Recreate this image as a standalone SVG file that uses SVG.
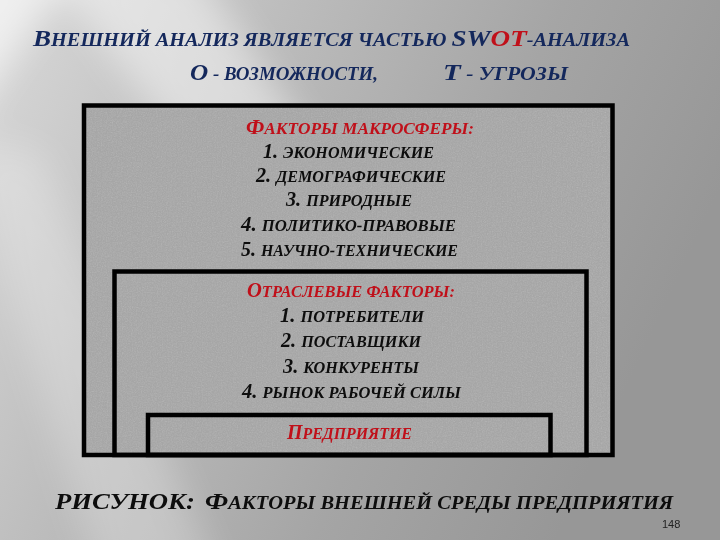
<svg xmlns="http://www.w3.org/2000/svg" width="720" height="540" viewBox="0 0 720 540">
<defs>
<linearGradient id="bg" x1="0" y1="0" x2="1" y2="0.35">
<stop offset="0" stop-color="#d8d8d8"/>
<stop offset="0.35" stop-color="#bdbdbd"/>
<stop offset="0.7" stop-color="#a5a5a5"/>
<stop offset="1" stop-color="#979797"/>
</linearGradient>
<filter id="blur" x="-50%" y="-50%" width="200%" height="200%">
<feGaussianBlur stdDeviation="18"/>
</filter>
<filter id="noise" x="0" y="0" width="100%" height="100%">
<feTurbulence type="fractalNoise" baseFrequency="0.8" numOctaves="2" seed="3"/>
<feColorMatrix type="matrix" values="0 0 0 0 0.62  0 0 0 0 0.62  0 0 0 0 0.62  0.9 0.9 0.9 0 -1.1"/>
</filter>
<style>
.box{fill:none;stroke:#000;stroke-width:4.5}
.t{font-family:"Liberation Serif","DejaVu Serif",serif;font-weight:bold;font-style:italic}
.navy{fill:#14285c}
.red{fill:#c0101a}
.blk{fill:#0d0d0d}
.big{font-size:24px}
.sm{font-size:18px}
.ibig{font-size:20px}
.ism{font-size:16px}
.num{font-family:"Liberation Sans","DejaVu Sans",sans-serif;font-size:11px;fill:#222}
</style>
</defs>
<rect width="720" height="540" fill="url(#bg)"/>
<g filter="url(#blur)">
<polygon points="40,-40 190,-40 440,330 320,330" fill="#fff" opacity="0.45"/>
<polygon points="-60,-40 80,-40 -60,160" fill="#fff" opacity="0.6"/>
<polygon points="-40,140 40,150 220,580 100,580" fill="#fff" opacity="0.25"/>
</g>

<g id="outer-box">
<rect x="84" y="105.5" width="528.5" height="349.5" fill="#a6a6a6"/>
<rect x="84" y="105.5" width="528.5" height="349.5" filter="url(#noise)" opacity="0.35"/>
<rect class="box" x="84" y="105.5" width="528.5" height="349.5"/>
</g>
<g id="middle-box">
<rect class="box" x="114.5" y="271.5" width="472" height="183.5"/>
</g>
<g id="inner-box">
<rect class="box" x="148" y="415" width="402.5" height="40"/>
</g>

<g id="title">
<text class="t navy" x="33" y="46" textLength="597" lengthAdjust="spacingAndGlyphs"><tspan class="big">В</tspan><tspan class="sm">НЕШНИЙ АНАЛИЗ ЯВЛЯЕТСЯ ЧАСТЬЮ </tspan><tspan class="big">SW</tspan><tspan class="big red">OT</tspan><tspan class="sm">-АНАЛИЗА</tspan></text>
<text class="t navy" x="190" y="80" textLength="188" lengthAdjust="spacingAndGlyphs"><tspan class="big">О</tspan><tspan class="sm"> - ВОЗМОЖНОСТИ,</tspan></text>
<text class="t navy" x="443" y="80" textLength="125" lengthAdjust="spacingAndGlyphs"><tspan class="big">Т</tspan><tspan class="sm"> - УГРОЗЫ</tspan></text>
</g>

<g id="macro-labels">
<text class="t red" x="246" y="134" textLength="228" lengthAdjust="spacingAndGlyphs"><tspan class="ibig">Ф</tspan><tspan class="ism">АКТОРЫ МАКРОСФЕРЫ:</tspan></text>
<text class="t blk" x="263" y="158" textLength="171" lengthAdjust="spacingAndGlyphs"><tspan class="ibig">1. </tspan><tspan class="ism">ЭКОНОМИЧЕСКИЕ</tspan></text>
<text class="t blk" x="256" y="182" textLength="190" lengthAdjust="spacingAndGlyphs"><tspan class="ibig">2. </tspan><tspan class="ism">ДЕМОГРАФИЧЕСКИЕ</tspan></text>
<text class="t blk" x="286" y="206" textLength="126" lengthAdjust="spacingAndGlyphs"><tspan class="ibig">3. </tspan><tspan class="ism">ПРИРОДНЫЕ</tspan></text>
<text class="t blk" x="241" y="231" textLength="215" lengthAdjust="spacingAndGlyphs"><tspan class="ibig">4. </tspan><tspan class="ism">ПОЛИТИКО-ПРАВОВЫЕ</tspan></text>
<text class="t blk" x="241" y="256" textLength="217" lengthAdjust="spacingAndGlyphs"><tspan class="ibig">5. </tspan><tspan class="ism">НАУЧНО-ТЕХНИЧЕСКИЕ</tspan></text>
</g>

<g id="industry-labels">
<text class="t red" x="247" y="297" textLength="208" lengthAdjust="spacingAndGlyphs"><tspan class="ibig">О</tspan><tspan class="ism">ТРАСЛЕВЫЕ ФАКТОРЫ:</tspan></text>
<text class="t blk" x="280" y="322" textLength="144" lengthAdjust="spacingAndGlyphs"><tspan class="ibig">1. </tspan><tspan class="ism">ПОТРЕБИТЕЛИ</tspan></text>
<text class="t blk" x="281" y="347" textLength="140" lengthAdjust="spacingAndGlyphs"><tspan class="ibig">2. </tspan><tspan class="ism">ПОСТАВЩИКИ</tspan></text>
<text class="t blk" x="283" y="373" textLength="136" lengthAdjust="spacingAndGlyphs"><tspan class="ibig">3. </tspan><tspan class="ism">КОНКУРЕНТЫ</tspan></text>
<text class="t blk" x="242" y="398" textLength="219" lengthAdjust="spacingAndGlyphs"><tspan class="ibig">4. </tspan><tspan class="ism">РЫНОК РАБОЧЕЙ СИЛЫ</tspan></text>
</g>

<g id="enterprise-label">
<text class="t red" x="287" y="439" textLength="125" lengthAdjust="spacingAndGlyphs"><tspan class="ibig">П</tspan><tspan class="ism">РЕДПРИЯТИЕ</tspan></text>
</g>

<g id="caption">
<text class="t blk big" x="55" y="509" textLength="140" lengthAdjust="spacingAndGlyphs">РИСУНОК:</text>
<text class="t blk" x="205" y="509" textLength="468" lengthAdjust="spacingAndGlyphs"><tspan class="big">Ф</tspan><tspan class="sm">АКТОРЫ ВНЕШНЕЙ СРЕДЫ ПРЕДПРИЯТИЯ</tspan></text>
<text class="num" x="662" y="528">148</text>
</g>
</svg>
